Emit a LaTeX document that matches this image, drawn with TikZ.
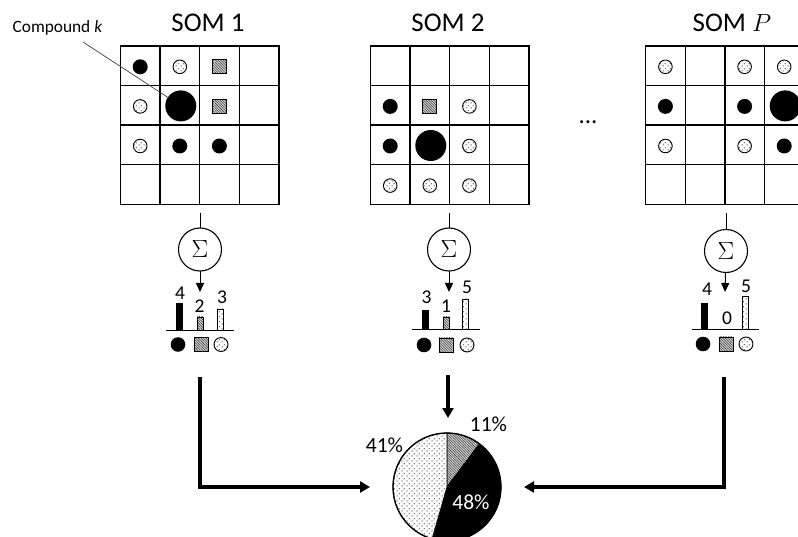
\documentclass[tikz,border=0pt]{standalone}
\usepackage{fontspec}
\setmainfont{Carlito}
\usetikzlibrary{patterns.meta,arrows.meta}

% sparse staggered dots used for the "dotted" class
\tikzdeclarepattern{
  name=sparsedots,
  type=uncolored,
  bounding box={(0pt,0pt) and (4.6pt,4.6pt)},
  tile size={(4.6pt,4.6pt)},
  code={
    \fill (1.15pt,1.15pt) circle (0.7pt);
    \fill (3.45pt,3.45pt) circle (0.7pt);
  }
}

\newcommand\fs[1]{\fontsize{#1}{#1}\selectfont}
\def\cellsz{39.6}

\tikzset{
  somgrid/.style={draw, line width=1.4pt, minimum size=158.4pt, inner sep=0pt, outer sep=0pt},
  cellline/.style={line width=1.4pt},
  dotmark/.style={preaction={fill=white}, pattern=sparsedots, pattern color=black!70, draw=black, line width=0.9pt},
  hatchmark/.style={preaction={fill=gray!30}, pattern={Lines[angle=-45,distance=1.8pt,line width=0.55pt]}, pattern color=black!80, draw=black, line width=0.7pt},
  sigmanode/.style={draw, circle, line width=1.1pt, minimum size=43pt, inner sep=0pt, outer sep=0pt, font=\fs{26}},
  title/.style={font=\fs{27}, anchor=base},
  count/.style={font=\fs{19.5}, inner sep=0pt},
  pct/.style={font=\fs{21.5}, inner sep=0pt},
  baseline/.style={line width=0.9pt},
  smallarrow/.style={line width=1pt, -{Triangle[length=9pt,width=8pt]}},
  bigarrow/.style={line width=3.5pt, -{Triangle[length=10pt,width=11pt]}},
}

% grid lines plus black dots (#2), big dot (#3) and dotted circles (#4) of one map
\newcommand\somfill[4]{%
  \begin{scope}[shift={(#1.north west)}]
    \foreach \k in {1,2,3} {
      \draw[cellline] (\k*\cellsz,0) -- (\k*\cellsz,4*\cellsz);
      \draw[cellline] (0,\k*\cellsz) -- (4*\cellsz,\k*\cellsz);
    }
    \foreach \c/\r in {#2}
      \fill (\c*\cellsz-0.5*\cellsz,\r*\cellsz-0.5*\cellsz+1) circle (7.5pt);
    \foreach \c/\r in {#3}
      \fill (\c*\cellsz-0.5*\cellsz+1,\r*\cellsz-0.5*\cellsz+0.5) circle (15.5pt);
    \foreach \c/\r in {#4}
      \path[dotmark] (\c*\cellsz-0.5*\cellsz,\r*\cellsz-0.5*\cellsz+1) circle (6.8pt);
  \end{scope}}

% hatched squares of one map
\newcommand\somsquares[2]{%
  \begin{scope}[shift={(#1.north west)}]
    \foreach \c/\r in {#2}
      \path[hatchmark] (\c*\cellsz-0.5*\cellsz-7,\r*\cellsz-0.5*\cellsz-6)
        rectangle (\c*\cellsz-0.5*\cellsz+7,\r*\cellsz-0.5*\cellsz+8);
  \end{scope}}

\begin{document}
\begin{tikzpicture}[x=1pt,y=-1pt]
\clip (0,0) rectangle (798,537);
\fill[white] (0,0) rectangle (798,537);

% ---------- titles ----------
\node[title] (t1) at (208,32) {SOM 1};
\node[title] (t2) at (448,32) {SOM 2};
\node[title] (tP) at (732,32) {SOM $P$};

% ---------- maps ----------
\node[somgrid] (som1) at (199.6,125.2) {};
\node[somgrid] (som2) at (449.6,125.2) {};
\node[somgrid] (somP) at (724.8,125.2) {};

\somfill{som1}{1/1,2/3,3/3}{2/2}{2/1,1/2,1/3}
\somsquares{som1}{3/1,3/2}
\somfill{som2}{1/2,1/3}{2/3}{3/2,3/3,1/4,2/4,3/4}
\somsquares{som2}{2/2}
\somfill{somP}{1/2,3/2,4/3}{4/2}{1/1,3/1,4/1,1/3,3/3}

\node[font=\fs{25}, inner sep=0pt] (more) at (588,122) {...};

% ---------- label for one compound ----------
\node[font=\fs{17.3}, anchor=base, inner sep=0pt] (cmp) at (57.5,33) {Compound \textit{k}};
\coordinate (lead) at (83,42);
\coordinate (bigk) at (168,97.5);
\draw[line width=0.7pt, black!75] (lead) -- (bigk);

% ---------- summation per map ----------
\coordinate (top1) at (200,213);
\coordinate (top2) at (449,213);
\coordinate (topP) at (726,213);
\node[sigmanode] (s1) at (200,249.5) {$\Sigma$};
\node[sigmanode] (s2) at (449,249.5) {$\Sigma$};
\node[sigmanode] (sP) at (726,251) {$\Sigma$};
\draw[line width=1pt] (top1) -- (s1);
\draw[line width=1pt] (top2) -- (s2);
\draw[line width=1pt] (topP) -- (sP);
\coordinate (tip1) at (200,292);
\coordinate (tip2) at (449,292);
\coordinate (tipP) at (725,292);
\draw[smallarrow] (s1) -- (tip1);
\draw[smallarrow] (s2) -- (tip2);
\draw[smallarrow] (sP) -- (tipP);

% ---------- counts for SOM 1 ----------
\coordinate (ba1) at (166,330); \coordinate (bb1) at (234,330);
\draw[baseline] (ba1) -- (bb1);
\fill (176,330) rectangle (182.5,303);
\path[hatchmark] (197,330) rectangle (203,317);
\path[dotmark] (217,330) rectangle (223,309);
\node[count] (c11) at (180,293) {4};
\node[count] (c12) at (199.5,306) {2};
\node[count] (c13) at (222,297.5) {3};
\fill (178,344.5) circle (7.3pt);
\path[hatchmark] (194,337.5) rectangle (208,351.5);
\path[dotmark] (221,344.5) circle (7pt);

% ---------- counts for SOM 2 ----------
\coordinate (ba2) at (412,329); \coordinate (bb2) at (480,329);
\draw[baseline] (ba2) -- (bb2);
\fill (422,329) rectangle (428.5,310);
\path[hatchmark] (443,329) rectangle (449,317);
\path[dotmark] (462.5,329) rectangle (468.5,299);
\node[count] (c21) at (426.5,297) {3};
\node[count] (c22) at (446,306) {1};
\node[count] (c23) at (467,287) {5};
\fill (424,345) circle (7.3pt);
\path[hatchmark] (439,338) rectangle (453,352);
\path[dotmark] (467,345) circle (7pt);

% ---------- counts for SOM P ----------
\coordinate (baP) at (692,329); \coordinate (bbP) at (759,329);
\draw[baseline] (baP) -- (bbP);
\fill (701,329) rectangle (707.5,303);
\path[dotmark] (742,329) rectangle (748,296);
\node[count] (cP1) at (707,289) {4};
\node[count] (cP2) at (727,318) {0};
\node[count] (cP3) at (746,286) {5};
\fill (703,344) circle (7.3pt);
\path[hatchmark] (719,337) rectangle (733,351);
\path[dotmark] (746,344) circle (7pt);

% ---------- pooled distribution ----------
\node[circle, minimum size=108pt, inner sep=0pt, outer sep=0pt] (pie) at (447,487) {};
\path[hatchmark, line width=0.8pt] (pie.center) -- ++(90:54pt)
  arc[start angle=90, end angle=53, radius=54pt] -- cycle;
\filldraw[line width=0.8pt] (pie.center) -- ++(53:54pt)
  arc[start angle=53, end angle=-106, radius=54pt] -- cycle;
\path[dotmark, line width=0.8pt] (pie.center) -- ++(-106:54pt)
  arc[start angle=-106, end angle=-270, radius=54pt] -- cycle;
\draw[line width=1.3pt] (pie.center) circle (54pt);
\node[pct] (p11) at (488.5,424) {11\%};
\node[pct] (p41) at (384.5,445) {41\%};
\node[pct, text=white] (p48) at (471,502) {48\%};

% ---------- pooling arrows ----------
\coordinate (dn1) at (200,377);
\coordinate (dnP) at (724,377);
\coordinate (dn2) at (448,375);
\coordinate (inL) at (370,487);
\coordinate (inR) at (524,487);
\coordinate (inT) at (448,418);
\draw[bigarrow] (dn1) |- (inL);
\draw[bigarrow] (dnP) |- (inR);
\draw[bigarrow] (dn2) -- (inT);
\end{tikzpicture}
\end{document}
